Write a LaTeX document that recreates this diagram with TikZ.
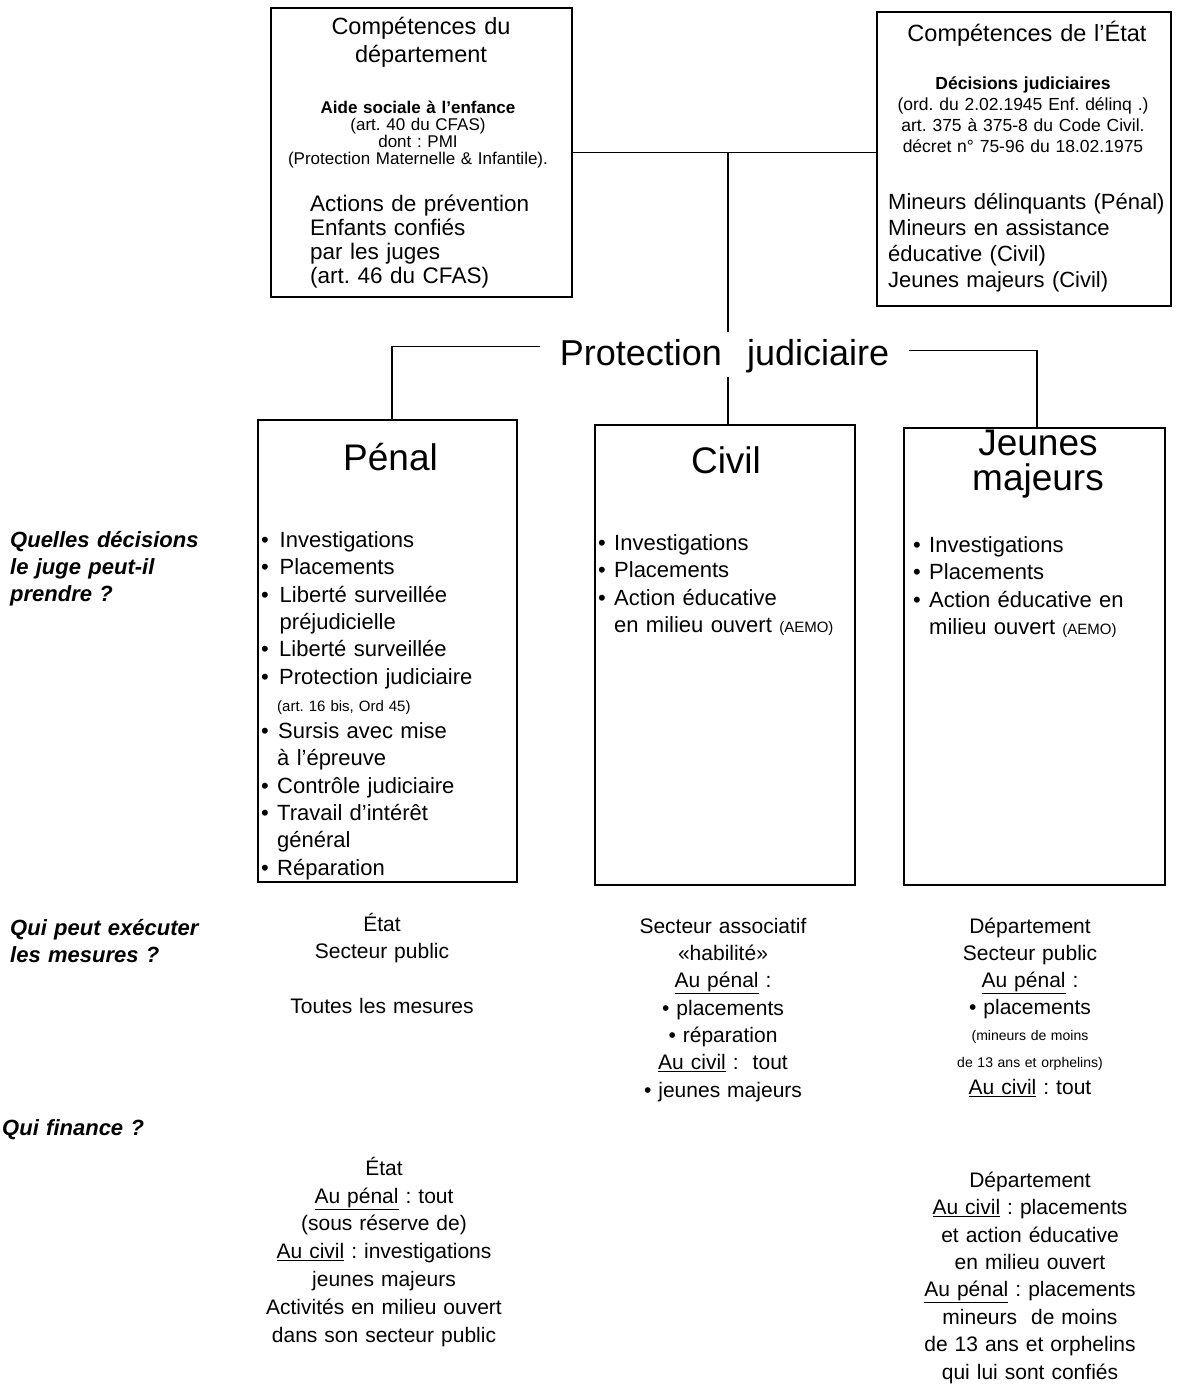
\documentclass[tikz,border=0pt]{standalone}
\usepackage{fontspec}
\setmainfont{Liberation Sans}
\newcommand\fsz[2]{\fontsize{#1}{#2}\selectfont}
\newcommand\smf[2]{\fontsize{#1}{#2}\selectfont\spaceskip=.3333em\xspaceskip=.3333em\relax}
\newcommand\bul[1]{\makebox[#1][l]{•}}
\newcommand\usl[1]{\underline{#1}}
\lineskiplimit=-200pt
\frenchspacing
\begin{document}
\frenchspacing
\begin{tikzpicture}[x=1pt,y=-1pt,
  box/.style={draw, line width=1.1pt, inner sep=0pt},
  conn/.style={line width=1.1pt},
  txtc/.style={inner sep=0pt, anchor=base, text width=330pt, align=center},
  txtl/.style={inner sep=0pt, anchor=base west, text width=300pt, align=left},
  head/.style={txtc, font=\fsz{23.5}{28}\frenchspacing},
  small/.style={txtc, font=\fsz{17}{17}\frenchspacing},
  body/.style={txtl, font=\fsz{22}{27.3}\frenchspacing},
  title/.style={txtc, font=\fsz{37}{35}},
  quest/.style={txtl, font=\fsz{22}{27}\bfseries\itshape\frenchspacing},
  low/.style={txtc, font=\fsz{21}{27.3}\frenchspacing}]
\fill[white] (0,0) rectangle (1178,1395);
\useasboundingbox (0,0) rectangle (1178,1395);

% boxes
\node[box, minimum width=301pt, minimum height=289pt] (dept) at (421.5,152.5) {};
\node[box, minimum width=294pt, minimum height=294pt] (etat) at (1024,159) {};
\node[box, minimum width=259pt, minimum height=462pt] (penal) at (387.5,651) {};
\node[box, minimum width=260pt, minimum height=460pt] (civil) at (725,655) {};
\node[box, minimum width=261pt, minimum height=457pt] (jeunes) at (1034.5,656.5) {};

% department box text
\node[head] (dh) at (421,34) {Compétences du\\département};
\node[small] (ds) at (418,113) {{\bfseries Aide sociale à l'enfance}\\(art. 40 du CFAS)\\dont : PMI\\(Protection Maternelle \& Infantile).};
\node[txtl, font=\fsz{22.5}{24}\frenchspacing] (da) at (310,211) {Actions de prévention\\Enfants confiés\\par les juges\\(art. 46 du CFAS)};

% state box text
\node[head] (eh) at (1027,41) {Compétences de l'État};
\node[txtc, font=\fsz{17.5}{21.3}\frenchspacing] (es) at (1023,89) {{\bfseries Décisions judiciaires}\\(ord. du 2.02.1945 Enf. délinq .)\\art. 375 à 375-8 du Code Civil.\\décret n° 75-96 du 18.02.1975};
\node[txtl, font=\fsz{22}{26}] (em) at (888,209.5) {Mineurs délinquants (Pénal)\\Mineurs en assistance\\éducative (Civil)\\Jeunes majeurs (Civil)};

% protection judiciaire
\node[inner xsep=20pt, inner ysep=0pt, anchor=base, text height=33pt, text depth=12pt, font=\fsz{36}{40}] (pj) at (724.5,365) {Protection\hspace{0.7em}judiciaire};

% connectors
\coordinate (j) at (728,152.5);
\draw[conn] (dept.east) -- (dept.east -| etat.west);
\draw[conn] (j) -- (j |- pj.north);
\draw[conn] (j |- pj.south) -- (j |- civil.north);
\draw[conn] ([yshift=8pt]pj.west) -| ([xshift=4.5pt]penal.north);
\draw[conn] ([yshift=4pt]pj.east) -| ([xshift=2.5pt]jeunes.north);

% titles
\node[title] (tp) at (390.5,470) {Pénal};
\node[title] (tc) at (726,473) {Civil};
\node[title] (tj) at (1038,455) {Jeunes\\majeurs};

% lists
\node[body] (lp) at (261,547.5) {\bul{18.5pt}Investigations\\
\bul{18.5pt}Placements\\
\bul{18.5pt}Liberté surveillée\\
\hspace*{18.5pt}préjudicielle\\
\bul{18pt}Liberté surveillée\\
\bul{18pt}Protection judiciaire\\
\hspace*{16pt}{\smf{15}{27.3}(art. 16 bis, Ord 45)}\\
\bul{17pt}Sursis avec mise\\
\hspace*{16pt}à l'épreuve\\
\bul{16pt}Contrôle judiciaire\\
\bul{16pt}Travail d'intérêt\\
\hspace*{16pt}général\\
\bul{16pt}Réparation};

\node[body] (lc) at (598,550.5) {\bul{16pt}Investigations\\
\bul{16pt}Placements\\
\bul{16pt}Action éducative\\
\hspace*{16pt}en milieu ouvert {\smf{15}{27.3}(AEMO)}};

\node[body] (lj) at (913,552.5) {\bul{16pt}Investigations\\
\bul{16pt}Placements\\
\bul{16pt}Action éducative en\\
\hspace*{16pt}milieu ouvert {\smf{15}{27.3}(AEMO)}};

% questions
\node[quest] (q1) at (10,547.5) {Quelles décisions\\le juge peut-il\\prendre ?};
\node[quest] (q2) at (10,935.5) {Qui peut exécuter\\les mesures ?};
\node[quest] (q3) at (2,1135.5) {Qui finance ?};

% who executes
\node[low] (x1) at (382,931.3) {État\\Secteur public\\\mbox{}\\Toutes les mesures};
\node[low] (x2) at (723,933.3) {Secteur associatif\\«habilité»\\\usl{Au pénal} :\\• placements\\• réparation\\\usl{Au civil} :\ \ tout\\• jeunes majeurs};
\node[low, font=\fsz{21}{26.9}\frenchspacing] (x3) at (1030,933.3) {Département\\Secteur public\\\usl{Au pénal} :\\• placements\\{\smf{14}{26.9}(mineurs de moins}\\{\smf{14}{26.9}de 13 ans et orphelins)}\\\usl{Au civil} : tout};

% who finances
\node[low, font=\fsz{21}{27.8}\frenchspacing] (f1) at (384,1175.3) {État\\\usl{Au pénal} : tout\\(sous réserve de)\\\usl{Au civil} : investigations\\jeunes majeurs\\Activités en milieu ouvert\\dans son secteur public};
\node[low, font=\fsz{21}{27.4}\frenchspacing] (f3) at (1030,1187.3) {Département\\\usl{Au civil} : placements\\et action éducative\\en milieu ouvert\\\usl{Au pénal} : placements\\mineurs\ \ de moins\\de 13 ans et orphelins\\qui lui sont confiés};
\end{tikzpicture}
\end{document}
